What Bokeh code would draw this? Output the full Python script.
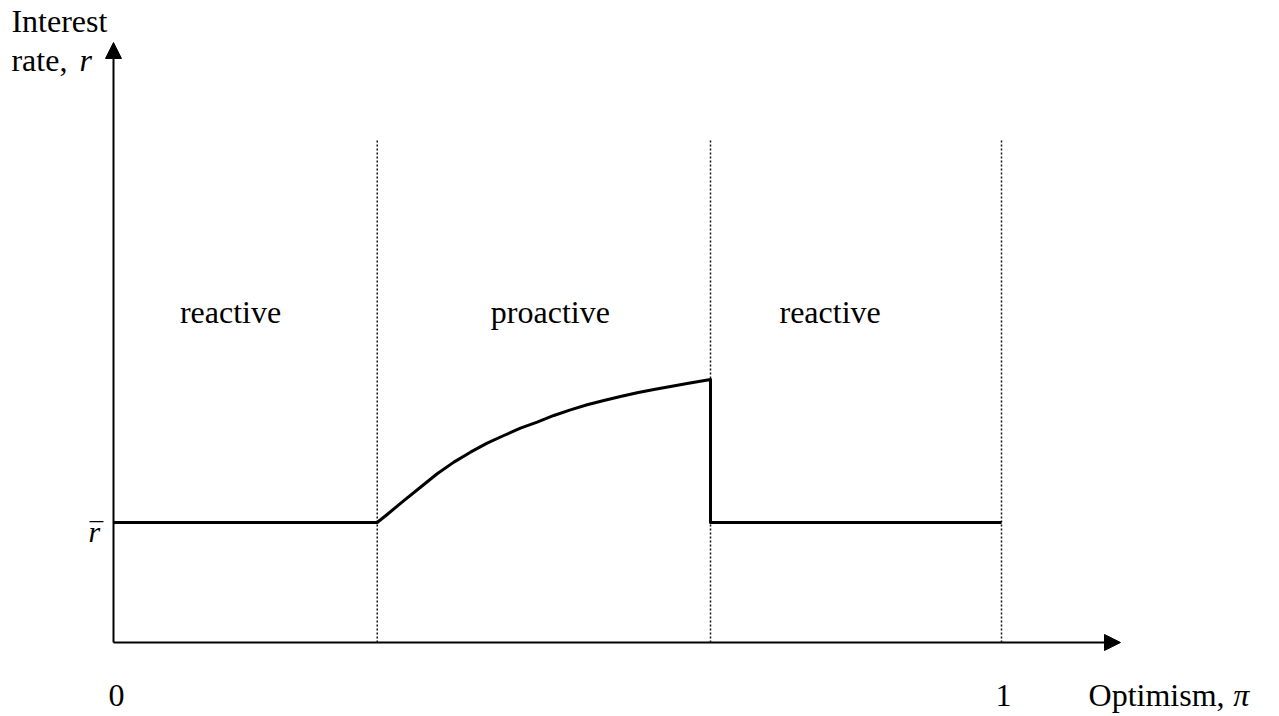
from bokeh.plotting import figure
from bokeh.models import Arrow, NormalHead, Range1d
from bokeh.core.properties import value
from bokeh.embed import file_html
from bokeh.resources import INLINE

# ---- data ----
r_bar = 1.0                        # benchmark interest rate level
boundaries = [0.297, 0.6723, 1.0]  # regime thresholds on optimism axis
curve_x = [0.2969, 0.3082, 0.3270, 0.3457, 0.3645, 0.3833, 0.4020, 0.4208, 0.4396,
           0.4583, 0.4771, 0.4959, 0.5146, 0.5334, 0.5522, 0.5709, 0.5897, 0.6085,
           0.6273, 0.6460, 0.6723]
curve_y = [1.000, 1.067, 1.183, 1.294, 1.406, 1.503, 1.586, 1.661, 1.725,
           1.786, 1.836, 1.892, 1.939, 1.981, 2.017, 2.050, 2.081, 2.108,
           2.133, 2.158, 2.192]
regime_labels = ["reactive", "proactive", "reactive"]
x_tick_labels = ["0", "1"]

# ---- layout (screen geometry) ----
W, H = 1279, 716
FONT = value("Liberation Serif")
FS = "32px"

p = figure(width=W, height=H, output_backend="svg", toolbar_location=None,
           x_axis_location=None, y_axis_location=None, min_border=0,
           x_range=Range1d(-0.12725, 1.31306), y_range=Range1d(-0.6167, 5.35),
           background_fill_color="white", border_fill_color="white")
p.outline_line_color = None
p.xgrid.visible = False
p.ygrid.visible = False

# dotted regime boundaries
top = 4.2
p.segment(x0=boundaries, y0=[0] * 3, x1=boundaries, y1=[top] * 3,
          line_color="#111111", line_width=1.5, line_dash="2 2")

# regime curve
line_x = [0.0, boundaries[0]] + curve_x + [boundaries[1], boundaries[2]]
line_y = [r_bar, r_bar] + curve_y + [r_bar, r_bar]
p.line(line_x, line_y, line_color="black", line_width=3, line_join="round")

# axes with arrow heads
p.add_layout(Arrow(end=NormalHead(size=16, fill_color="black", line_color="black"),
                   x_start=0, y_start=0, x_end=0, y_end=5.0,
                   line_color="black", line_width=2))
p.add_layout(Arrow(end=NormalHead(size=16, fill_color="black", line_color="black"),
                   x_start=0, y_start=0, x_end=1.134, y_end=0,
                   line_color="black", line_width=2))

# regime labels
p.text(x=[0.1318, 0.492, 0.807], y=[2.758] * 3, text=regime_labels,
       text_font=FONT, text_font_size=FS, text_align="center",
       text_baseline="alphabetic", text_color="black")

# x tick labels
base_y = -0.44
p.text(x=[0.0034, 1.0023], y=[base_y, base_y], text=x_tick_labels,
       text_font=FONT, text_font_size=FS, text_align="center",
       text_baseline="alphabetic", text_color="black")

# x axis title
p.text(x=[1.098], y=[base_y], text=["Optimism,"], text_font=FONT, text_font_size=FS,
       text_align="left", text_baseline="alphabetic", text_color="black")
p.text(x=[1.261], y=[base_y], text=["π"], text_font=FONT, text_font_size=FS,
       text_font_style="italic", text_align="left", text_baseline="alphabetic",
       text_color="black")

# y axis title
p.text(x=[-0.1149, -0.1149], y=[5.175, 4.858], text=["Interest", "rate,"],
       text_font=FONT, text_font_size=FS, text_align="left",
       text_baseline="alphabetic", text_color="black")
p.text(x=[-0.0383], y=[4.858], text=["r"], text_font=FONT, text_font_size=FS,
       text_font_style="italic", text_align="left", text_baseline="alphabetic",
       text_color="black")

# r-bar label
p.text(x=[-0.0282], y=[0.925], text=["r"], text_font=FONT, text_font_size="30px",
       text_font_style="italic", text_align="left", text_baseline="alphabetic",
       text_color="black")
p.segment(x0=[-0.027], y0=[1.008], x1=[-0.0113], y1=[1.008],
          line_color="black", line_width=1.2)

open("out.html", "w").write(file_html(p, INLINE))
